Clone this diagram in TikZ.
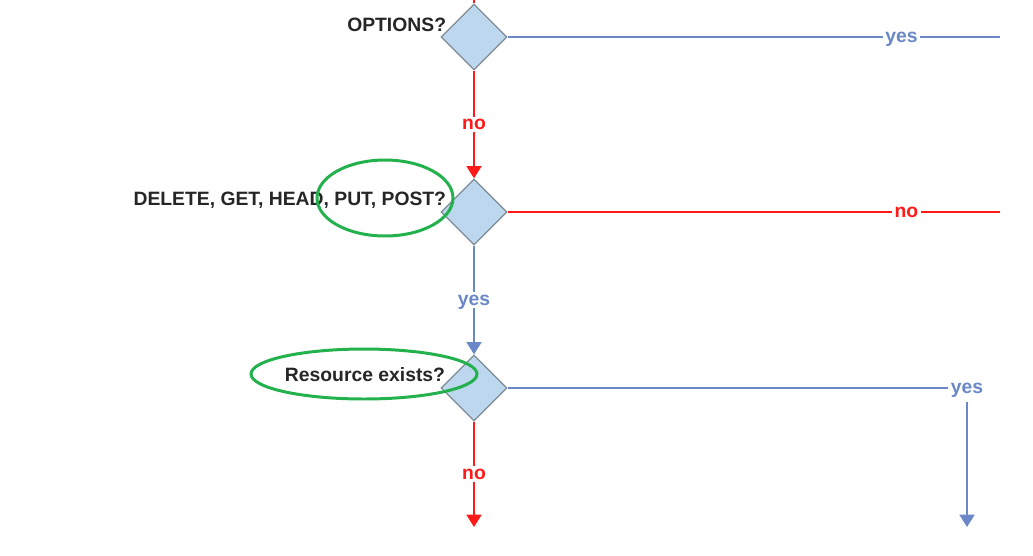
\documentclass[tikz,border=0pt]{standalone}
\usepackage{fontspec}
\setmainfont{Liberation Sans}
\usetikzlibrary{shapes,shapes.geometric,calc,arrows.meta}
\definecolor{dfill}{HTML}{BDD7EE}
\definecolor{dline}{HTML}{7F8C96}
\definecolor{yesblue}{HTML}{6A88C8}
\definecolor{nored}{HTML}{FF1A1A}
\definecolor{ringgreen}{HTML}{22B14C}

\begin{document}
\begin{tikzpicture}[x=0.02cm,y=-0.02cm]
				\tikzstyle{dnode}=[diamond, draw=dline, fill=dfill, line width=0.7pt, minimum size=1.32cm, inner sep=0pt]
				\tikzstyle{qlabel}=[anchor=east, inner sep=0pt, text=black!85, font=\fontsize{11}{13}\selectfont\bfseries]
				\tikzstyle{yesline}=[draw=yesblue, line width=1.1pt]
				\tikzstyle{noline}=[draw=nored, line width=1.1pt]
				\tikzstyle{tip}=[-{Triangle[width=8.5pt,length=7pt]}]
				\tikzstyle{ylab}=[fill=white, inner sep=1.5pt, text depth=0pt, text=yesblue, font=\fontsize{11}{13}\selectfont\bfseries]
				\tikzstyle{nlab}=[fill=white, inner sep=1.5pt, text depth=0pt, text=nored, font=\fontsize{11}{13}\selectfont\bfseries]
				\tikzstyle{ring}=[draw=ringgreen, line width=1.7pt]
				\useasboundingbox (0,0) rectangle (1033,555);
				% decisions
				\node[dnode] (opt) at (474,37) {};
				\node[dnode] (meth) at (474,212) {};
				\node[dnode] (exists) at (474,388) {};
				\node[qlabel] (optq) at ($(opt.west)+(6,-12)$) {OPTIONS?};
				\node[qlabel] (methq) at ($(meth.west)+(6,-12)$) {DELETE, GET, HEAD, PUT, POST?};
				\node[qlabel] (existsq) at ($(exists.west)+(5,-13)$) {Resource exists?};
				% loose ends
				\coordinate (top) at (474,0);
				\coordinate (optyes) at (1000,37);
				\coordinate (methno) at (1000,212);
				\coordinate (existsno) at (474,527);
				\coordinate (existsdown) at (967,527);
				\node[ylab] (existsyes) at (967,388) {yes};
				% flow
				\draw[noline] (top) -- (opt.north);
				\draw[yesline] (opt.east) -- node[ylab, pos=0.8] {yes} (optyes);
				\draw[noline, tip] (opt.south) -- node[nlab] {no} (meth.north);
				\draw[noline] (meth.east) -- node[nlab, pos=0.81] {no} (methno);
				\draw[yesline, tip] (meth.south) -- node[ylab] {yes} (exists.north);
				\draw[yesline] (exists.east) -- (existsyes.west);
				\draw[yesline, tip] ($(existsyes.south)+(0,6)$) -- (existsdown);
				\draw[noline, tip] (exists.south) -- node[nlab] {no} (existsno);
				% marks
				\draw[ring] (385,198) ellipse [x radius=1.36cm, y radius=0.76cm];
				\draw[ring] (364,374) ellipse [x radius=2.26cm, y radius=0.5cm];
			\end{tikzpicture}
\end{document}
